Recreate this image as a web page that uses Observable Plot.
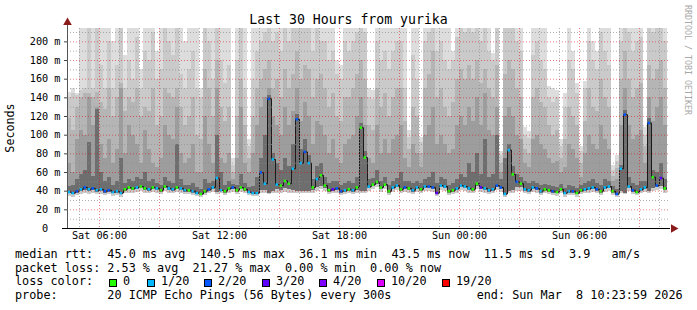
<!DOCTYPE html>
<html><head><meta charset="utf-8">
<script src="https://cdn.jsdelivr.net/npm/d3@7"></script>
<script src="https://cdn.jsdelivr.net/npm/@observablehq/plot@0.6"></script>
<style>
body{margin:0;background:#fff;}
#wrap{position:relative;width:697px;height:310px;overflow:hidden;font-family:"DejaVu Sans Mono",monospace;background:#fff;}
#wrap svg{position:absolute;left:0;top:0;}
.t{position:absolute;white-space:pre;color:#000;line-height:1;font-size:11.8px;}
.box{position:absolute;width:6px;height:6px;border:1px solid #000;}
</style></head><body><div id="wrap"></div>
<script>
// ---- data (one column = 12 minutes, Sat 04:24 -> Sun 10:24) ----
const median = [
39,38,40,42,44,42,43,41,42,40,
41,39,40,38,42,44,43,44,45,43,
42,44,43,41,45,43,42,44,43,41,
41,40,38,37,40,42,44,54,41,40,
43,44,41,44,42,39,38,38,60,48,
139,74,47,46,51,48,64,117,70,82,
70,44,53,57,46,41,42,43,40,41,
42,41,44,108,76,45,47,50,44,47,
40,44,46,42,44,43,41,44,42,45,
45,44,38,46,45,40,41,43,46,45,
43,42,48,44,43,41,42,46,44,37,
84,58,50,48,42,41,44,43,40,42,
41,40,39,42,38,40,40,38,41,42,
43,44,42,40,44,45,40,37,64,122,
45,41,39,42,44,113,55,46,54,43];
const loss = [
1,1,2,1,2,1,2,1,1,2,
2,1,1,1,0,0,0,1,0,0,
1,0,1,0,0,1,1,0,1,1,
0,1,1,0,0,2,1,1,1,0,
0,2,0,0,0,1,1,1,2,1,
2,1,1,0,0,0,1,2,1,2,
1,0,1,0,0,0,3,2,2,1,
0,1,0,0,0,1,0,0,0,0,
0,1,1,0,2,0,1,1,0,1,
2,2,3,1,1,0,0,1,1,1,
1,0,0,3,1,1,1,2,2,1,
1,0,2,0,1,1,1,2,1,0,
0,2,0,0,1,1,2,0,0,1,
1,1,2,0,1,1,0,2,1,2,
1,2,0,1,1,2,0,2,3,0];
// smoke: upper edges (outermost -> innermost) and lower edges
const u1 = [
146,150,145,220,220,220,220,220,220,220,
220,200,220,220,185,220,220,220,170,220,
220,220,190,220,220,220,220,220,220,200,
220,220,220,150,220,220,220,220,220,220,
220,75,220,220,220,95,220,220,220,220,
220,220,220,220,220,220,220,220,220,220,
220,220,220,220,220,220,220,180,175,220,
220,220,220,220,220,150,148,220,220,220,
220,220,220,220,220,105,220,220,98,220,
220,220,220,220,220,220,190,220,220,220,
220,220,220,220,220,220,188,220,82,220,
220,220,220,220,108,104,220,220,220,220,
152,150,148,95,145,220,190,155,88,158,
220,200,190,220,220,220,68,78,220,220,
220,220,220,220,108,220,220,220,220,220];
const u2 = [
140,145,142,148,150,220,150,220,175,150,
200,150,175,220,150,180,160,205,150,190,
180,210,160,170,220,200,185,220,165,150,
170,190,150,140,220,200,160,220,180,155,
175,68,180,220,150,88,160,190,200,210,
220,200,210,190,220,200,220,220,215,220,
220,190,215,200,200,180,190,165,160,200,
190,200,210,220,210,140,138,200,180,190,
170,190,200,200,150,98,185,160,92,200,
210,220,190,200,180,170,180,205,220,210,
220,210,220,200,215,190,180,220,78,220,
220,215,200,190,100,96,185,200,180,170,
140,135,140,88,130,180,170,145,82,150,
200,180,170,210,190,175,62,72,200,220,
210,190,200,205,100,220,210,215,220,200];
const u3 = [
118,105,130,140,145,145,140,146,135,128,
150,120,140,155,125,140,135,150,120,130,
125,150,110,120,150,145,140,150,130,110,
120,140,100,95,170,150,120,180,130,115,
130,60,120,160,110,75,120,150,160,170,
180,150,160,140,170,150,165,190,160,175,
170,140,160,165,150,130,145,120,115,140,
140,150,165,180,160,110,105,150,130,145,
120,140,150,150,115,85,130,120,80,150,
165,190,140,150,130,120,135,160,170,160,
175,160,180,155,170,150,140,175,70,165,
180,170,150,140,85,80,140,150,135,130,
110,100,105,75,95,130,120,110,70,115,
150,130,125,160,140,130,56,64,160,190,
160,140,150,155,88,175,160,170,180,150];
const u4 = [
70,60,95,105,100,140,110,130,90,75,
95,70,85,150,80,110,100,90,70,105,
85,70,65,75,110,100,95,130,80,70,
75,90,60,60,120,90,70,150,75,70,
80,52,75,130,70,60,80,110,130,140,
150,120,110,100,130,110,125,150,115,135,
120,90,115,110,100,80,95,75,70,90,
95,100,120,140,110,75,70,110,80,95,
80,95,100,110,75,65,90,80,65,100,
110,130,90,100,90,80,85,110,120,110,
130,115,140,110,145,105,100,130,60,120,
130,120,100,95,70,65,95,100,90,85,
75,70,72,60,65,90,85,75,55,80,
100,90,85,110,95,85,50,52,110,150,
110,95,100,105,70,140,115,130,140,110];
const u5 = [
45,46,52,58,62,92,56,128,60,50,
55,46,50,75,48,52,50,55,52,60,
50,52,48,46,55,50,48,90,52,46,
46,48,44,42,52,48,50,100,60,46,
50,47,46,58,48,44,45,55,75,100,
142,80,70,62,75,66,90,122,85,95,
78,52,66,70,55,48,50,50,46,48,
50,48,55,112,82,52,54,62,50,55,
46,50,54,60,50,50,48,50,48,52,
55,60,48,55,52,46,48,52,58,55,
70,60,80,58,95,55,58,100,52,75,
90,66,58,55,50,48,50,48,46,47,
46,45,44,47,43,46,45,43,46,48,
50,52,48,46,52,50,45,42,68,126,
55,48,46,50,50,118,62,60,70,52];
const l1 = [
34,33,35,36,38,36,37,36,36,35,
36,34,35,33,37,38,38,39,40,38,
37,39,38,36,40,38,37,39,38,36,
36,35,34,33,35,37,39,36,37,35,
38,39,36,39,37,35,34,34,38,38,
36,37,38,38,39,38,38,38,37,38,
37,38,40,42,40,36,37,38,35,36,
37,36,38,38,38,40,42,44,39,42,
35,39,41,37,39,38,36,39,37,40,
40,39,34,41,40,35,36,38,41,40,
38,37,42,39,38,36,37,41,39,33,
38,38,40,40,37,36,39,38,35,37,
36,35,34,37,33,35,35,33,36,37,
38,39,37,35,39,40,35,33,37,36,
40,36,35,37,39,38,40,41,42,38];
const l2 = [
37,36,38,40,41,40,41,39,40,38,
39,37,38,36,40,42,41,42,43,41,
40,42,41,39,43,41,40,42,41,39,
39,38,36,35,38,40,42,39,40,38,
41,42,39,42,40,37,36,36,41,41,
38,40,42,41,43,42,41,40,40,40,
40,41,44,45,43,39,40,41,38,39,
40,39,41,40,40,43,45,47,42,45,
38,42,44,40,42,41,39,42,40,43,
43,42,36,44,43,38,39,41,44,43,
41,40,45,42,41,39,40,44,42,35,
40,41,44,44,40,39,42,41,38,40,
39,38,37,40,36,38,38,36,39,40,
41,42,40,38,42,43,38,35,40,38,
43,39,37,40,42,40,43,44,45,41];

const lossLabels = ["0","1/20","2/20","3/20","4/20","10/20","19/20"];
const lossColors = ["#26ff00","#00b8ff","#0059ff","#5e00ff","#7e00ff","#dd00ff","#ff0000"];
const yTicks = [0,20,40,60,80,100,120,140,160,180,200];
const yTickLabels = ["0\u00a0\u00a0","20 m","40 m","60 m","80 m","100 m","120 m","140 m","160 m","180 m","200 m"];
const yMinor = [10,30,50,70,90,110,130,150,170,190,210];
const xTickLabels = ["Sat 06:00","Sat 12:00","Sat 18:00","Sun 00:00","Sun 06:00"];
const xTickTimes = [Date.UTC(2026,2,7,6),Date.UTC(2026,2,7,12),Date.UTC(2026,2,7,18),Date.UTC(2026,2,8,0),Date.UTC(2026,2,8,6)].map(d=>new Date(d));
const smokeGrays = ["#dddddd","#cacaca","#b5b5b5","#9d9d9d","#6e6e6e"];

const start = new Date(Date.UTC(2026,2,7,4,24));
const end = new Date(Date.UTC(2026,2,8,10,24));
const stepMs = 12*60*1000;
const yMax = 214.3;

const rows = median.map((m,i)=>({t0:new Date(+start+i*stepMs), t1:new Date(+start+(i+1)*stepMs), median:m, loss:loss[i]}));
const uppers = [u1,u2,u3,u4,u5];
const smokeMarks = uppers.map((u,k)=>Plot.rect(rows.map((r,i)=>({t0:r.t0,t1:r.t1,y1:(k<2?l1[i]:l2[i]),y2:u[i]})),
  {x1:"t0",x2:"t1",y1:"y1",y2:"y2",fill:smokeGrays[k],clip:true,shapeRendering:"crispEdges"}));

const hours = d3.utcHour.range(d3.utcHour.ceil(start), end);
const majorHours = hours.filter(h=>h.getUTCHours()%3===0);
const minorHours = hours.filter(h=>h.getUTCHours()%3!==0);

const lineRows = rows.concat([{t0:end, median:median[median.length-1]}]);
const medMarks = lossColors.map((c,k)=>Plot.ruleY(rows.filter(r=>r.loss===k),{x1:"t0",x2:"t1",y:"median",stroke:c,strokeWidth:2.6,insetLeft:0.5,insetRight:1}));

const chart = Plot.plot({
  width:697, height:310, marginLeft:67, marginRight:30, marginTop:28, marginBottom:82,
  x:{type:"utc", domain:[start,end], axis:null},
  y:{domain:[0,yMax], axis:null},
  style:{background:"transparent", fontFamily:"'DejaVu Sans Mono', monospace", overflow:"visible"},
  marks:[
    ...smokeMarks,
    Plot.line(lineRows,{x:"t0",y:"median",curve:"step-after",stroke:"#1a1a1a",strokeWidth:1,clip:true}),
    ...medMarks,
    Plot.ruleX(minorHours,{stroke:"#8f8f8f",strokeOpacity:0.7,strokeDasharray:"1,2"}),
    Plot.ruleX(majorHours,{stroke:"#e00000",strokeOpacity:0.5,strokeDasharray:"1,2"}),
    Plot.ruleY(yMinor,{stroke:"#8f8f8f",strokeOpacity:0.7,strokeDasharray:"1,2",insetRight:-3}),
    Plot.ruleY(yTicks.slice(1),{stroke:"#e00000",strokeOpacity:0.5,strokeDasharray:"1,2",insetRight:-3}),
    Plot.ruleY(yTicks,{x1:()=>start,x2:()=>start,insetLeft:-3,stroke:"#444"}),
    Plot.ruleX([start],{stroke:"#555",insetTop:-4}),
    Plot.ruleY([0],{stroke:"#000",insetLeft:-5,insetRight:-3}),
    Plot.dot([{x:start,y:yMax}],{x:"x",y:"y",dy:-6,symbol:"triangle",r:3.2,fill:"#8b1a1a",stroke:"none"}),
    Plot.dot([{x:end,y:0}],{x:"x",y:"y",dx:6,symbol:"triangle",rotate:90,r:3.2,fill:"#8b1a1a",stroke:"none"}),
    Plot.text(yTicks,{y:d=>d,frameAnchor:"left",dx:-7,textAnchor:"end",text:(d,i)=>yTickLabels[i],fontSize:10.2,fill:"#000"}),
    Plot.text(xTickTimes,{x:d=>d,frameAnchor:"bottom",dy:10,text:(d,i)=>xTickLabels[i],fontSize:10.2,fill:"#000"})
  ]
});
const wrap = document.getElementById("wrap");
wrap.appendChild(chart);

function addText(txt, left, top, extra){
  const d=document.createElement("div"); d.className="t"; d.textContent=txt;
  d.style.left=left+"px"; d.style.top=top+"px";
  if(extra) Object.assign(d.style, extra);
  wrap.appendChild(d); return d;
}
addText("Last 30 Hours from yurika",0,13,{width:"697px",textAlign:"center",fontSize:"13.2px"});
addText("Seconds",10.5,128,{fontSize:"11.7px",transform:"translate(-50%,-50%) rotate(-90deg)"});
addText("RRDTOOL / TOBI OETIKER",692,5,{fontSize:"8.3px",color:"#a8a8a8",transformOrigin:"0 0",transform:"rotate(90deg)"});
addText("median rtt:  45.0 ms avg  140.5 ms max  36.1 ms min  43.5 ms now  11.5 ms sd  3.9   am/s",15,249);
addText("packet loss: 2.53 % avg  21.27 % max  0.00 % min  0.00 % now",15,262.5);
addText("loss color:",15,276);
const boxX=[109,147,204,262,319,377,442];
lossLabels.forEach((lab,i)=>{
  const b=document.createElement("div"); b.className="box";
  b.style.left=boxX[i]+"px"; b.style.top="279px"; b.style.background=lossColors[i];
  wrap.appendChild(b);
  addText(lab,boxX[i]+14,276);
});
addText("probe:       20 ICMP Echo Pings (56 Bytes) every 300s            end: Sun Mar  8 10:23:59 2026",15,289.5);
</script>
</body></html>
